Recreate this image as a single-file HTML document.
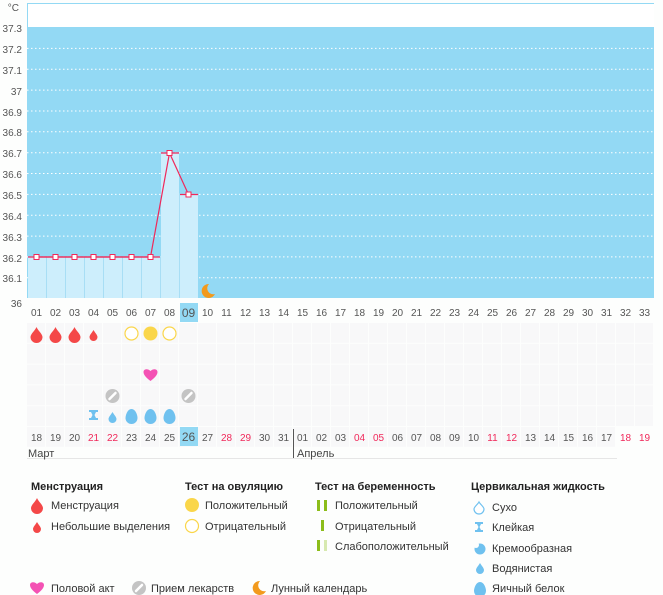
<!DOCTYPE html>
<html><head><meta charset="utf-8"><style>
html,body{margin:0;padding:0;background:#fdfefd;}
svg{display:block;font-family:"Liberation Sans","DejaVu Sans",sans-serif;}
.t{font-size:10px;fill:#555;}
.d{font-size:10px;fill:#555;text-anchor:middle;}
.r{fill:#f0285a;}
.l{font-size:11px;fill:#333;}
.h{font-size:11px;fill:#222;font-weight:bold;}
</style></head><body>
<svg width="663" height="595" viewBox="0 0 663 595" xmlns="http://www.w3.org/2000/svg">
<defs>
<path id="drop" d="M0,-7 C1,-4 6,0 6,3 A6,6 0 0 1 -6,3 C-6,0 -1,-4 0,-7Z"/>
<path id="sdrop" d="M0,-5 C1,-3 4,0 4,2 A4,4 0 0 1 -4,2 C-4,0 -1,-3 0,-5Z"/>
<path id="egg" d="M0,-7 C4,-7 6,-1 6,2 A6,6 0 0 1 -6,2 C-6,-1 -4,-7 0,-7Z"/>
<g id="pill"><circle r="7" fill="#c4c4c4"/><line x1="-3" y1="3" x2="3" y2="-3" stroke="#fff" stroke-width="2.5" stroke-linecap="round"/></g>
<path id="heart" d="M0,6 C-4,3 -7,0 -7,-3 C-7,-6 -3,-7 0,-4 C3,-7 7,-6 7,-3 C7,0 4,3 0,6Z" fill="#f452b4"/>
<path id="moon" d="M2,-7 A7,7 0 1 0 8,3 A6,6 0 0 1 2,-7Z" fill="#f29a1d"/>
<pattern id="cells" x="27" y="323" width="19" height="20.8" patternUnits="userSpaceOnUse"><rect x="0" y="0" width="18" height="19.8" fill="#f8f8f9"/></pattern>
</defs>
<rect x="27" y="3" width="627" height="24" fill="#fff"/>
<rect x="27" y="27" width="627" height="271" fill="#93d9f4"/>
<line x1="27.5" y1="3" x2="27.5" y2="298" stroke="#93d9f4"/>
<line x1="27" y1="3.5" x2="654" y2="3.5" stroke="#93d9f4"/>
<g stroke="#fff" stroke-dasharray="1.5,2.5" stroke-width="1">
<line x1="27" y1="48.4" x2="654" y2="48.4"/><line x1="27" y1="69.3" x2="654" y2="69.3"/>
<line x1="27" y1="90.1" x2="654" y2="90.1"/><line x1="27" y1="111" x2="654" y2="111"/>
<line x1="27" y1="131.8" x2="654" y2="131.8"/><line x1="27" y1="152.7" x2="654" y2="152.7"/>
<line x1="27" y1="173.5" x2="654" y2="173.5"/><line x1="27" y1="194.4" x2="654" y2="194.4"/>
<line x1="27" y1="215.2" x2="654" y2="215.2"/><line x1="27" y1="236.1" x2="654" y2="236.1"/>
<line x1="27" y1="256.9" x2="654" y2="256.9"/><line x1="27" y1="277.8" x2="654" y2="277.8"/>
</g>
<g fill="#cdeefc">
<rect x="28" y="257" width="18" height="41"/><rect x="47" y="257" width="18" height="41"/>
<rect x="66" y="257" width="18" height="41"/><rect x="85" y="257" width="18" height="41"/>
<rect x="104" y="257" width="18" height="41"/><rect x="123" y="257" width="18" height="41"/>
<rect x="142" y="257" width="18" height="41"/><rect x="161" y="153" width="18" height="145"/>
<rect x="180" y="194" width="18" height="104"/>
</g>
<g stroke="#a8def5" stroke-width="1">
<line x1="46.5" y1="257" x2="46.5" y2="298"/><line x1="65.5" y1="257" x2="65.5" y2="298"/><line x1="84.5" y1="257" x2="84.5" y2="298"/>
<line x1="103.5" y1="257" x2="103.5" y2="298"/><line x1="122.5" y1="257" x2="122.5" y2="298"/><line x1="141.5" y1="257" x2="141.5" y2="298"/>
<line x1="160.5" y1="257" x2="160.5" y2="298"/><line x1="179.5" y1="194" x2="179.5" y2="298"/>
</g>
<g stroke="#f0285a" stroke-width="1.2" fill="none">
<line x1="28" y1="257" x2="160" y2="257"/><line x1="161" y1="153" x2="179" y2="153"/><line x1="180" y1="194.5" x2="198" y2="194.5"/>
<polyline points="36.5,257 55.5,257 74.5,257 93.5,257 112.5,257 131.5,257 150.5,257 169.5,153 188.5,194.5"/>
</g>
<g fill="#fff" stroke="#f0285a" stroke-width="1">
<rect x="34" y="254.5" width="5" height="5"/><rect x="53" y="254.5" width="5" height="5"/><rect x="72" y="254.5" width="5" height="5"/>
<rect x="91" y="254.5" width="5" height="5"/><rect x="110" y="254.5" width="5" height="5"/><rect x="129" y="254.5" width="5" height="5"/>
<rect x="148" y="254.5" width="5" height="5"/><rect x="167" y="150.5" width="5" height="5"/><rect x="186" y="192" width="5" height="5"/>
</g>
<use href="#moon" x="207" y="291"/>
<g class="t" text-anchor="end">
<text x="19" y="11">°C</text>
<text x="22" y="32">37.3</text><text x="22" y="53">37.2</text><text x="22" y="74">37.1</text><text x="22" y="95">37</text>
<text x="22" y="116">36.9</text><text x="22" y="136">36.8</text><text x="22" y="157">36.7</text><text x="22" y="178">36.6</text>
<text x="22" y="199">36.5</text><text x="22" y="220">36.4</text><text x="22" y="241">36.3</text><text x="22" y="262">36.2</text>
<text x="22" y="282">36.1</text><text x="22" y="307">36</text>
</g>
<rect x="180" y="303" width="18" height="19" fill="#93d9f4"/>
<g class="d">
<text x="36.5" y="316">01</text><text x="55.5" y="316">02</text><text x="74.5" y="316">03</text><text x="93.5" y="316">04</text>
<text x="112.5" y="316">05</text><text x="131.5" y="316">06</text><text x="150.5" y="316">07</text><text x="169.5" y="316">08</text>
<text x="188.5" y="317" style="font-size:12px">09</text><text x="207.5" y="316">10</text><text x="226.5" y="316">11</text><text x="245.5" y="316">12</text>
<text x="264.5" y="316">13</text><text x="283.5" y="316">14</text><text x="302.5" y="316">15</text><text x="321.5" y="316">16</text>
<text x="340.5" y="316">17</text><text x="359.5" y="316">18</text><text x="378.5" y="316">19</text><text x="397.5" y="316">20</text>
<text x="416.5" y="316">21</text><text x="435.5" y="316">22</text><text x="454.5" y="316">23</text><text x="473.5" y="316">24</text>
<text x="492.5" y="316">25</text><text x="511.5" y="316">26</text><text x="530.5" y="316">27</text><text x="549.5" y="316">28</text>
<text x="568.5" y="316">29</text><text x="587.5" y="316">30</text><text x="606.5" y="316">31</text><text x="625.5" y="316">32</text>
<text x="644.5" y="316">33</text>
</g>
<rect x="27" y="323" width="627" height="104" fill="url(#cells)"/>
<rect x="27" y="427" width="589" height="20" fill="url(#cells)"/>
<g fill="#f44848"><use href="#drop" x="36.5" y="334"/><use href="#drop" x="55.5" y="334"/><use href="#drop" x="74.5" y="334"/><use href="#sdrop" x="93.5" y="335"/></g>
<circle cx="131.5" cy="333.5" r="6.5" fill="#fff" stroke="#fad64a" stroke-width="1.2"/>
<circle cx="150.5" cy="333.5" r="7" fill="#fad64a"/>
<circle cx="169.5" cy="333.5" r="6.5" fill="#fff" stroke="#fad64a" stroke-width="1.2"/>
<use href="#heart" x="150.5" y="375"/>
<use href="#pill" x="112.5" y="396"/><use href="#pill" x="188.5" y="396"/>
<g fill="#6fc1ef">
<path d="M89,410 h9 v2 h-2 l-1.5,3 1.5,3 h2 v2 h-9 v-2 h2 l1.5,-3 -1.5,-3 h-2z"/>
<use href="#sdrop" x="112.5" y="417"/>
<use href="#egg" x="131.5" y="416"/><use href="#egg" x="150.5" y="416"/><use href="#egg" x="169.5" y="416"/>
</g>
<rect x="180" y="427" width="18" height="19" fill="#93d9f4"/>
<g class="d">
<text x="36.5" y="441">18</text><text x="55.5" y="441">19</text><text x="74.5" y="441">20</text><text x="93.5" y="441" class="r">21</text>
<text x="112.5" y="441" class="r">22</text><text x="131.5" y="441">23</text><text x="150.5" y="441">24</text><text x="169.5" y="441">25</text>
<text x="188.5" y="441" style="font-size:12px">26</text><text x="207.5" y="441">27</text><text x="226.5" y="441" class="r">28</text><text x="245.5" y="441" class="r">29</text>
<text x="264.5" y="441">30</text><text x="283.5" y="441">31</text><text x="302.5" y="441">01</text><text x="321.5" y="441">02</text>
<text x="340.5" y="441">03</text><text x="359.5" y="441" class="r">04</text><text x="378.5" y="441" class="r">05</text><text x="397.5" y="441">06</text>
<text x="416.5" y="441">07</text><text x="435.5" y="441">08</text><text x="454.5" y="441">09</text><text x="473.5" y="441">10</text>
<text x="492.5" y="441" class="r">11</text><text x="511.5" y="441" class="r">12</text><text x="530.5" y="441">13</text><text x="549.5" y="441">14</text>
<text x="568.5" y="441">15</text><text x="587.5" y="441">16</text><text x="606.5" y="441">17</text><text x="625.5" y="441" class="r">18</text>
<text x="644.5" y="441" class="r">19</text>
</g>
<line x1="293.5" y1="429" x2="293.5" y2="458" stroke="#555"/>
<line x1="27" y1="458.5" x2="617" y2="458.5" stroke="#e6e6e6"/>
<text x="28" y="457" style="font-size:11px;fill:#444">Март</text>
<text x="297" y="457" style="font-size:11px;fill:#444">Апрель</text>
<text class="h" x="31" y="490">Менструация</text>
<use href="#drop" x="37" y="505" fill="#f44848"/><text class="l" x="51" y="509">Менструация</text>
<use href="#sdrop" x="37" y="527" fill="#f44848"/><text class="l" x="51" y="530">Небольшие выделения</text>
<text class="h" x="185" y="490">Тест на овуляцию</text>
<circle cx="192" cy="505" r="7" fill="#fad64a"/><text class="l" x="205" y="509">Положительный</text>
<circle cx="192" cy="526" r="6.5" fill="#fff" stroke="#fad64a" stroke-width="1.2"/><text class="l" x="205" y="530">Отрицательный</text>
<text class="h" x="315" y="490">Тест на беременность</text>
<rect x="317" y="500" width="3" height="11" fill="#8cbd1a"/><rect x="324" y="500" width="3" height="11" fill="#8cbd1a"/><text class="l" x="335" y="509">Положительный</text>
<rect x="321" y="520" width="3" height="11" fill="#8cbd1a"/><text class="l" x="335" y="530">Отрицательный</text>
<rect x="317" y="540" width="3" height="11" fill="#8cbd1a"/><rect x="324" y="540" width="3" height="11" fill="#d7e9b0"/><text class="l" x="335" y="550">Слабоположительный</text>
<text class="h" x="471" y="490">Цервикальная жидкость</text>
<path d="M479,502 C480,504 484,507 484,509 A5,5 0 0 1 474,509 C474,507 478,504 479,502Z" fill="#fff" stroke="#6fc1ef" stroke-width="1.2"/><text class="l" x="492" y="511">Сухо</text>
<path d="M475,522 h8 v2 h-2 l-1.5,3 1.5,3 h2 v2 h-8 v-2 h2 l1.5,-3 -1.5,-3 h-2z" fill="#6fc1ef"/><text class="l" x="492" y="531">Клейкая</text>
<circle cx="480" cy="549" r="5.5" fill="#6fc1ef"/><circle cx="476" cy="545" r="3" fill="#fdfefd"/><text class="l" x="492" y="552">Кремообразная</text>
<use href="#sdrop" x="480" y="568" fill="#6fc1ef"/><text class="l" x="492" y="572">Водянистая</text>
<use href="#egg" x="480" y="589" fill="#6fc1ef"/><text class="l" x="492" y="592">Яичный белок</text>
<use href="#heart" x="37" y="588"/><text class="l" x="51" y="592">Половой акт</text>
<use href="#pill" x="139" y="588"/><text class="l" x="151" y="592">Прием лекарств</text>
<use href="#moon" x="258" y="588"/><text class="l" x="271" y="592">Лунный календарь</text>
</svg>
</body></html>
